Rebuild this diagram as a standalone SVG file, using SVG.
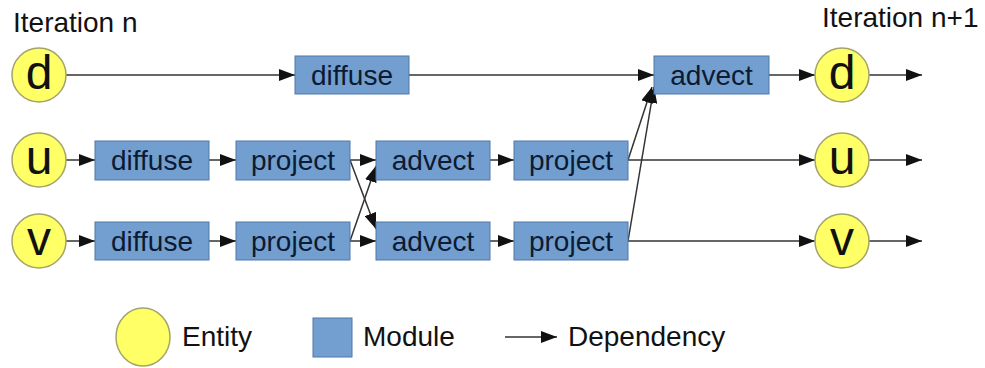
<svg xmlns="http://www.w3.org/2000/svg" width="985" height="368" viewBox="0 0 985 368">
<style>
text{font-family:"Liberation Sans",Arial,sans-serif;fill:#111}
.ent{fill:#ffff66;stroke:#a3a36b;stroke-width:1.5}
.mod{fill:#729fcf;stroke:#4f78a8;stroke-width:1}
.lbl{font-size:28px;text-anchor:middle;fill:#0d1a33}
.big{font-size:48px;text-anchor:middle;fill:#111}
.cap{font-size:28px}
.c{fill:none;stroke:#333;stroke-width:1.5;marker-end:url(#ah)}
</style>
<defs>
<marker id="ah" markerUnits="userSpaceOnUse" markerWidth="16" markerHeight="12" refX="16" refY="6" orient="auto">
<path d="M0,0 L16,6 L0,12 z" fill="#111"/>
</marker>
</defs>
<text class="cap" x="13" y="32">Iteration n</text>
<text class="cap" x="822" y="27">Iteration n+1</text>
<g id="connectors">
<line class="c" x1="66" y1="75" x2="295" y2="75"/>
<line class="c" x1="409" y1="75" x2="654" y2="75"/>
<line class="c" x1="769" y1="75" x2="815" y2="75"/>
<line class="c" x1="869" y1="75" x2="922" y2="75"/>
<line class="c" x1="66" y1="160" x2="95" y2="160"/>
<line class="c" x1="209" y1="160" x2="236" y2="160"/>
<line class="c" x1="350" y1="160" x2="376" y2="160"/>
<line class="c" x1="490" y1="160" x2="514" y2="160"/>
<line class="c" x1="628" y1="160" x2="815" y2="160"/>
<line class="c" x1="869" y1="160" x2="922" y2="160"/>
<line class="c" x1="66" y1="241" x2="95" y2="241"/>
<line class="c" x1="209" y1="241" x2="236" y2="241"/>
<line class="c" x1="350" y1="241" x2="376" y2="241"/>
<line class="c" x1="490" y1="241" x2="514" y2="241"/>
<line class="c" x1="628" y1="241" x2="815" y2="241"/>
<line class="c" x1="869" y1="241" x2="922" y2="241"/>
<line class="c" x1="350" y1="160" x2="376" y2="229"/>
<line class="c" x1="350" y1="241" x2="376" y2="166"/>
<line class="c" x1="628" y1="160" x2="652" y2="87"/>
<line class="c" x1="628" y1="241" x2="654" y2="87"/>
</g>
<g id="d_in"><circle class="ent" cx="39" cy="75" r="27"/><text class="big" x="39" y="89">d</text></g>
<g id="u_in"><circle class="ent" cx="39" cy="160" r="27"/><text class="big" x="39" y="174">u</text></g>
<g id="v_in"><circle class="ent" cx="39" cy="241" r="27"/><text class="big" x="39" y="255">v</text></g>
<g id="d_out"><circle class="ent" cx="842" cy="75" r="27"/><text class="big" x="842" y="89">d</text></g>
<g id="u_out"><circle class="ent" cx="842" cy="160" r="27"/><text class="big" x="842" y="174">u</text></g>
<g id="v_out"><circle class="ent" cx="842" cy="241" r="27"/><text class="big" x="842" y="255">v</text></g>
<g id="d_diffuse"><rect class="mod" x="295" y="56" width="114" height="38"/><text class="lbl" x="352" y="85">diffuse</text></g>
<g id="d_advect"><rect class="mod" x="654" y="56" width="115" height="38"/><text class="lbl" x="711.5" y="85">advect</text></g>
<g id="u_diffuse"><rect class="mod" x="95" y="141" width="114" height="39"/><text class="lbl" x="152" y="170">diffuse</text></g>
<g id="u_project1"><rect class="mod" x="236" y="141" width="114" height="39"/><text class="lbl" x="293" y="170">project</text></g>
<g id="u_advect"><rect class="mod" x="376" y="141" width="114" height="39"/><text class="lbl" x="433" y="170">advect</text></g>
<g id="u_project2"><rect class="mod" x="514" y="141" width="114" height="39"/><text class="lbl" x="571" y="170">project</text></g>
<g id="v_diffuse"><rect class="mod" x="95" y="222" width="114" height="38"/><text class="lbl" x="152" y="251">diffuse</text></g>
<g id="v_project1"><rect class="mod" x="236" y="222" width="114" height="38"/><text class="lbl" x="293" y="251">project</text></g>
<g id="v_advect"><rect class="mod" x="376" y="222" width="114" height="38"/><text class="lbl" x="433" y="251">advect</text></g>
<g id="v_project2"><rect class="mod" x="514" y="222" width="114" height="38"/><text class="lbl" x="571" y="251">project</text></g>
<g id="legend">
<ellipse class="ent" cx="143" cy="337" rx="27" ry="29"/>
<text class="cap" x="182" y="346">Entity</text>
<rect class="mod" x="313" y="318" width="39" height="39"/>
<text class="cap" x="363" y="346">Module</text>
<line class="c" x1="505" y1="337" x2="557" y2="337"/>
<text class="cap" x="568" y="346">Dependency</text>
</g>
</svg>
